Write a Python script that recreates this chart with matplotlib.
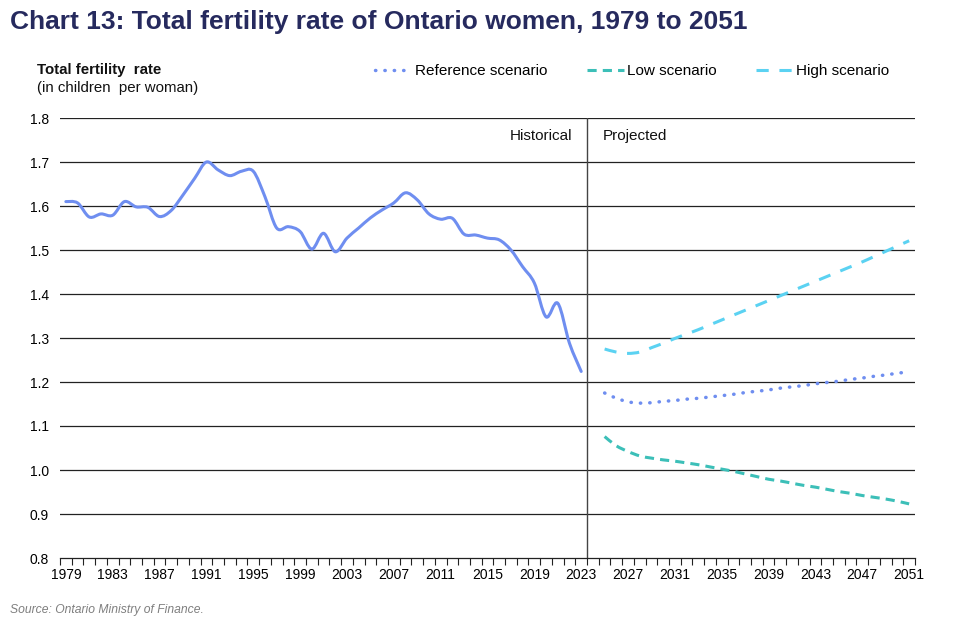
import numpy as np
import matplotlib
matplotlib.use("Agg")
import matplotlib.pyplot as plt
from matplotlib.path import Path
from matplotlib.patches import PathPatch

plt.rcParams['font.family'] = ['Liberation Sans', 'DejaVu Sans']

years = list(range(1979, 2052))
hist_years = list(range(1979, 2024))
proj_years = list(range(2025, 2052))

historical = [1.610, 1.607, 1.575, 1.582, 1.579, 1.610, 1.598, 1.597, 1.576, 1.590,
              1.625, 1.663, 1.700, 1.682, 1.669, 1.679, 1.679, 1.621, 1.550, 1.553,
              1.542, 1.502, 1.538, 1.496, 1.527, 1.550, 1.573, 1.591, 1.607, 1.630,
              1.614, 1.582, 1.570, 1.572, 1.536, 1.534, 1.527, 1.523, 1.500, 1.462,
              1.425, 1.348, 1.379, 1.288, 1.224]

reference = [1.175, 1.163, 1.155, 1.152, 1.153, 1.156, 1.158, 1.161, 1.163, 1.166,
             1.169, 1.172, 1.176, 1.179, 1.182, 1.186, 1.189, 1.192, 1.196, 1.199,
             1.202, 1.206, 1.209, 1.213, 1.216, 1.220, 1.223]
low = [1.076, 1.055, 1.042, 1.032, 1.027, 1.023, 1.020, 1.016, 1.012, 1.007,
       1.002, 0.997, 0.991, 0.985, 0.979, 0.975, 0.970, 0.965, 0.961, 0.956,
       0.951, 0.947, 0.942, 0.938, 0.934, 0.929, 0.923]
high = [1.275, 1.268, 1.265, 1.268, 1.278, 1.288, 1.299, 1.309, 1.319, 1.330,
        1.341, 1.352, 1.363, 1.374, 1.385, 1.396, 1.407, 1.418, 1.429, 1.440,
        1.451, 1.462, 1.473, 1.485, 1.497, 1.509, 1.521]

yticks = [0.8, 0.9, 1.0, 1.1, 1.2, 1.3, 1.4, 1.5, 1.6, 1.7, 1.8]
xlabels = list(range(1979, 2052, 4))

blue = '#6f8ef0'
teal = '#3cbfb8'
cyan = '#5bd2f2'
navy = '#262a5e'


def smooth_path(xs, ys):
    # excel style smoothed line: bezier through the points
    pts = np.column_stack([xs, ys]).astype(float)
    verts = [pts[0]]
    codes = [Path.MOVETO]
    n = len(pts)
    for i in range(n - 1):
        p0 = pts[max(i - 1, 0)]
        p1 = pts[i]
        p2 = pts[i + 1]
        p3 = pts[min(i + 2, n - 1)]
        c1 = p1 + (p2 - p0) / 6.0
        c2 = p2 - (p3 - p1) / 6.0
        verts += [c1, c2, p2]
        codes += [Path.CURVE4] * 3
    return Path(verts, codes)


fig = plt.figure(figsize=(9.6, 6.24), dpi=100)
ax = fig.add_axes([60 / 960, 1 - 558 / 624, 855 / 960, 440 / 624])

pos = {y: i for i, y in enumerate(years)}
hx = [pos[y] for y in hist_years]
px = [pos[y] for y in proj_years]

ax.add_patch(PathPatch(smooth_path(hx, historical), facecolor='none', edgecolor=blue, lw=2.2,
                       capstyle='round', joinstyle='round', zorder=3))
ax.add_patch(PathPatch(smooth_path(px, reference), facecolor='none', edgecolor=blue, lw=2.5,
                       linestyle=(0, (0.1, 2.6)), capstyle='round', zorder=3))
ax.add_patch(PathPatch(smooth_path(px, low), facecolor='none', edgecolor=teal, lw=2.2,
                       linestyle=(0, (3, 2)), zorder=3))
ax.add_patch(PathPatch(smooth_path(px, high), facecolor='none', edgecolor=cyan, lw=2.2,
                       linestyle=(0, (4, 3.5)), zorder=3))

# legend handles only
ax.plot([], [], color=blue, lw=2.5, linestyle=(0, (0.1, 2.6)), dash_capstyle='round',
        label='Reference scenario')
ax.plot([], [], color=teal, lw=2.2, linestyle=(0, (3, 2)), label='Low scenario')
ax.plot([], [], color=cyan, lw=2.2, linestyle=(0, (4, 3.5)), label='High scenario')

ax.set_xlim(-0.5, len(years) - 0.5)
ax.set_ylim(0.8, 1.8)
ax.set_yticks(yticks)
ax.set_yticklabels([f'{v:.1f}' for v in yticks], fontsize=10)
ax.tick_params(axis='y', length=0, pad=8)
for v in yticks[1:]:
    ax.axhline(v, color='#222222', lw=0.9, zorder=1)

ax.set_xticks([pos[y] for y in xlabels])
ax.set_xticklabels([str(y) for y in xlabels], fontsize=10)
ax.set_xticks(np.arange(-0.5, len(years), 1), minor=True)
ax.tick_params(axis='x', which='major', length=0, pad=7)
ax.tick_params(axis='x', which='minor', length=5, width=0.8, color='#222222')

for s in ['top', 'right', 'left']:
    ax.spines[s].set_visible(False)
ax.spines['bottom'].set_color('#222222')
ax.spines['bottom'].set_linewidth(0.9)

ax.axvline(pos[2023] + 0.5, color='#444444', lw=1.0, zorder=2)
ax.text(pos[2023] - 0.75, 1.758, 'Historical', ha='right', va='center', fontsize=11, color='#111111')
ax.text(pos[2024] + 0.85, 1.758, 'Projected', ha='left', va='center', fontsize=11, color='#111111')

fig.text(10 / 960, 1 - 22 / 624, 'Chart 13: Total fertility rate of Ontario women, 1979 to 2051',
         fontsize=19, fontweight='bold', color=navy, va='center', ha='left')
fig.text(37 / 960, 1 - 70 / 624, 'Total fertility  rate', fontsize=10.8, fontweight='bold',
         va='center', ha='left', color='#111111')
fig.text(37 / 960, 1 - 88 / 624, '(in children  per woman)', fontsize=10.8,
         va='center', ha='left', color='#111111')
fig.text(10 / 960, 1 - 610 / 624, 'Source: Ontario Ministry of Finance.', fontsize=8.7,
         style='italic', color='#7f7f7f', va='center', ha='left')

leg = ax.legend(loc='center', bbox_to_anchor=(632 / 960, 1 - 71 / 624), bbox_transform=fig.transFigure,
                ncol=3, frameon=False, fontsize=11, handlelength=2.4, handletextpad=0.2,
                columnspacing=2.6)

fig.savefig('out.png', dpi=100)
